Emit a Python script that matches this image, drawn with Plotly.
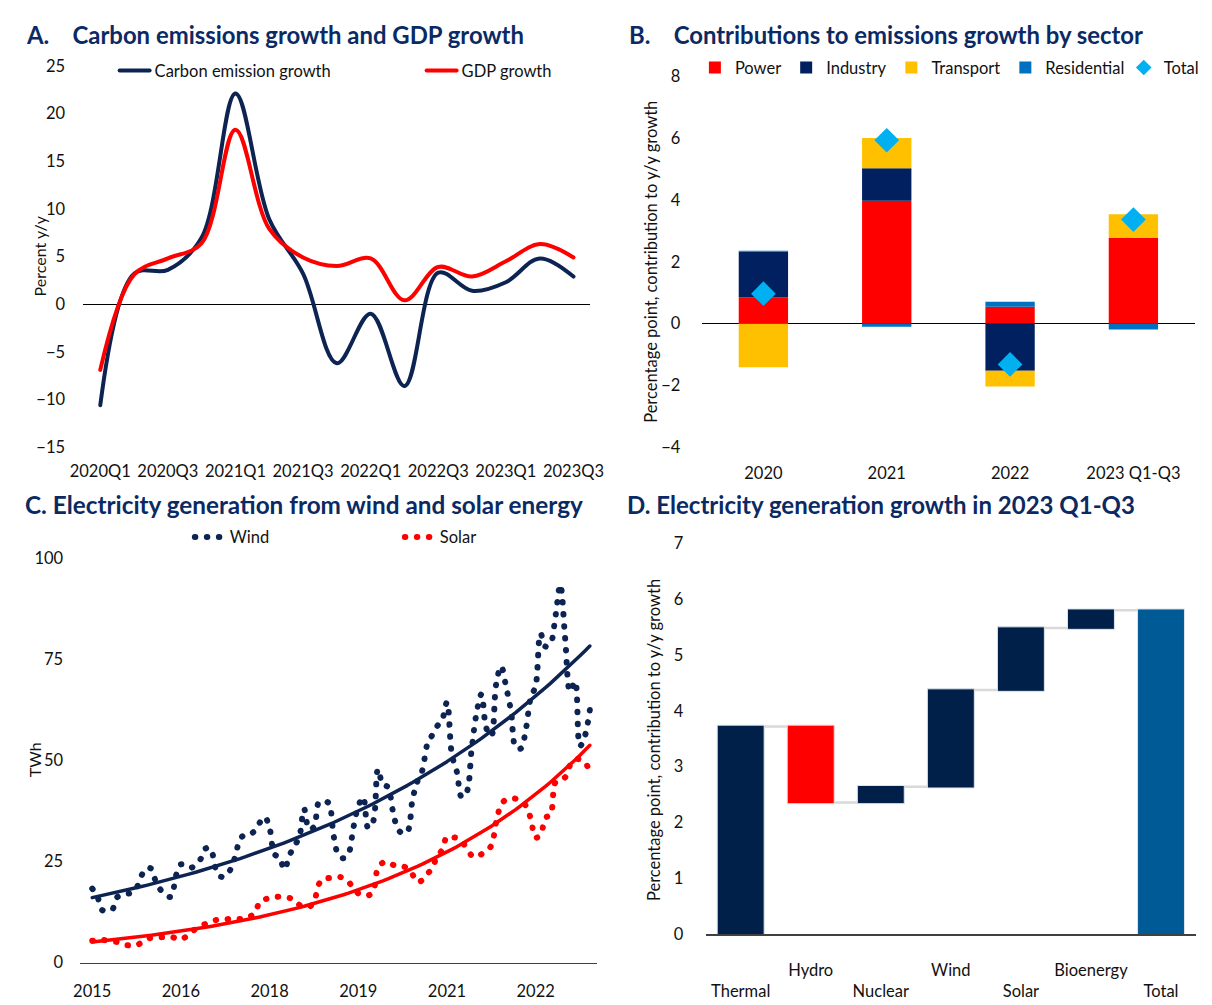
import numpy as np
import plotly.graph_objects as go

# ---------------- Data ----------------
# Panel A: y/y growth, percent
quarters = ["2020Q1", "2020Q2", "2020Q3", "2020Q4", "2021Q1", "2021Q2", "2021Q3", "2021Q4",
            "2022Q1", "2022Q2", "2022Q3", "2022Q4", "2023Q1", "2023Q2", "2023Q3"]
carbon_growth = [-10.6, 3.2, 3.6, 7.0, 22.1, 8.9, 3.2, -6.2, -1.0, -8.6, 3.3, 1.4, 2.3, 4.8, 2.9]
gdp_growth = [-6.9, 3.1, 4.8, 6.4, 18.3, 7.9, 4.9, 4.0, 4.8, 0.4, 3.9, 2.9, 4.5, 6.3, 4.9]

# Panel B: contributions, percentage points
years_b = ["2020", "2021", "2022", "2023 Q1-Q3"]
power = [0.85, 3.98, 0.55, 2.77]
industry = [1.48, 1.05, -1.53, 0.0]
transport = [-1.41, 0.98, -0.51, 0.77]
residential = [0.03, -0.10, 0.16, -0.19]
total_b = [0.97, 5.94, -1.32, 3.37]

# Panel C: monthly generation, TWh, from Jan 2015
wind = [18.3, 16.5, 13.0, 13.0, 13.0, 16.1, 16.7, 17.0, 17.3, 18.5,
        21.5, 23.3, 23.2, 19.6, 17.8, 16.6, 16.3, 21.5, 24.3, 23.7,
        23.4, 24.2, 25.6, 28.2, 28.2, 23.4, 21.3, 21.3, 22.9, 26.1,
        30.5, 31.6, 31.7, 32.6, 34.6, 36.0, 33.2, 26.8, 26.0, 23.0,
        26.4, 28.8, 30.9, 38.0, 33.0, 33.5, 39.6, 39.9, 39.4, 31.3,
        26.5, 25.8, 26.9, 33.3, 38.6, 40.9, 33.3, 34.8, 47.8, 43.9,
        43.4, 37.6, 33.1, 31.9, 32.4, 40.2, 44.8, 47.5, 53.9, 56.2,
        58.4, 59.9, 64.3, 51.4, 47.2, 40.9, 42.1, 52.6, 61.6, 66.3,
        57.9, 56.0, 68.9, 73.2, 68.2, 62.1, 53.1, 52.9, 57.5, 65.4,
        68.4, 81.3, 78.1, 78.8, 85.3, 93.4, 80.0, 67.0, 69.5, 53.5,
        56.0, 62.4]
solar = [5.4, 5.5, 5.6, 5.5, 5.3, 5.1, 4.6, 4.3, 4.3, 4.3,
         5.0, 5.8, 6.1, 6.1, 6.3, 6.3, 6.4, 6.0, 5.7, 6.4,
         7.5, 8.3, 9.0, 9.6, 10.1, 10.5, 10.7, 10.7, 10.8, 10.8,
         10.8, 10.9, 11.4, 12.2, 15.0, 15.6, 16.0, 16.2, 16.3, 16.2,
         16.0, 15.6, 14.3, 13.9, 13.8, 15.0, 19.4, 20.8, 20.9, 21.0,
         21.2, 20.9, 20.0, 18.4, 17.1, 16.7, 16.6, 17.5, 23.5, 24.7,
         24.9, 24.2, 23.8, 23.8, 23.3, 21.8, 19.9, 20.4, 21.9, 23.3,
         26.3, 27.8, 31.1, 31.0, 30.8, 29.9, 28.3, 26.5, 26.1, 26.8,
         27.7, 28.9, 34.8, 39.0, 40.3, 40.5, 40.5, 39.8, 38.8, 35.6,
         30.9, 31.6, 35.8, 36.5, 44.5, 45.2, 45.8, 48.8, 50.2, 50.2,
         49.5, 47.2]
month_tick_idx = [0, 18, 36, 54, 72, 90]
month_tick_labels = ["2015", "2016", "2018", "2019", "2021", "2022"]

# Panel D: contribution to y/y growth, percentage points
sources = ["Thermal", "Hydro", "Nuclear", "Wind", "Solar", "Bioenergy", "Total"]
contrib = [3.72, -1.36, 0.28, 1.73, 1.11, 0.32, 5.80]
measures = ["relative"] * 6 + ["total"]
upper_row = ["Hydro", "Wind", "Bioenergy"]

# ---------------- Styles ----------------
W, H = 1212, 1005
NAVY = "#0D2452"
RED = "#FF0000"
TITLE_C = "#0B2A63"
FONT = "Lato"
TXT = "#111111"
TICKF = dict(family=FONT, size=16.5, color=TXT)
LEGF = dict(family=FONT, size=16.5, color=TXT)

def px_x(a, b):
    return [a / W, b / W]

def px_y(top, bottom):
    return [1 - bottom / H, 1 - top / H]

fig = go.Figure()

# ---------- Panel A ----------
fig.add_trace(go.Scatter(x=quarters, y=carbon_growth, mode="lines", name="Carbon emission growth",
                         line=dict(color=NAVY, width=4, shape="spline", smoothing=1.0),
                         xaxis="x", yaxis="y", legend="legend"))
fig.add_trace(go.Scatter(x=quarters, y=gdp_growth, mode="lines", name="GDP growth",
                         line=dict(color=RED, width=4, shape="spline", smoothing=1.0),
                         xaxis="x", yaxis="y", legend="legend"))

# ---------- Panel B ----------
for name, vals, col in [("Power", power, "#FF0000"), ("Industry", industry, "#002060"),
                        ("Transport", transport, "#FFC000"), ("Residential", residential, "#0070C0")]:
    fig.add_trace(go.Bar(x=years_b, y=vals, name=name, marker=dict(color=col, line=dict(width=0)),
                         xaxis="x2", yaxis="y2", legend="legend2"))
fig.add_trace(go.Scatter(x=years_b, y=total_b, mode="markers", name="Total",
                         marker=dict(symbol="diamond", size=19, color="#00B0F0"),
                         xaxis="x2", yaxis="y2", legend="legend4"))

# ---------- Panel C ----------
months = list(range(len(wind)))
mx = np.array(months, dtype=float)
bw, aw = np.polyfit(mx, np.log(np.array(wind)), 1)
bs, as_ = np.polyfit(mx, np.log(np.array(solar)), 1)
wind_trend = np.exp(aw + bw * mx)
solar_trend = np.exp(as_ + bs * mx)

fig.add_trace(go.Scatter(x=months, y=wind, mode="lines", name="Wind",
                         line=dict(color=NAVY, width=6, shape="spline", dash="0.5px,11.5px"),
                         xaxis="x3", yaxis="y3", legend="legend3"))
fig.add_trace(go.Scatter(x=months, y=solar, mode="lines", name="Solar",
                         line=dict(color=RED, width=6, shape="spline", dash="0.5px,11.5px"),
                         xaxis="x3", yaxis="y3", legend="legend3"))
fig.add_trace(go.Scatter(x=months, y=wind_trend, mode="lines", showlegend=False,
                         line=dict(color=NAVY, width=3.5), xaxis="x3", yaxis="y3"))
fig.add_trace(go.Scatter(x=months, y=solar_trend, mode="lines", showlegend=False,
                         line=dict(color=RED, width=3.5), xaxis="x3", yaxis="y3"))

# ---------- Panel D ----------
fig.add_trace(go.Waterfall(x=sources, y=contrib, measure=measures, textinfo="none",
                           increasing=dict(marker=dict(color="#00204A", line=dict(color="#DDE3EA", width=1))),
                           decreasing=dict(marker=dict(color="#FF0000", line=dict(color="#F2D0D0", width=1))),
                           totals=dict(marker=dict(color="#005A96", line=dict(color="#DDE3EA", width=1))),
                           connector=dict(line=dict(color="#D9D9D9", width=2.5)),
                           showlegend=False, xaxis="x4", yaxis="y4"))

d_ticktext = [(s + "<br> ") if s in upper_row else (" <br>" + s) for s in sources]

def yax(domain, rng, dtick, ticklen, anchor, zero=False):
    return dict(domain=domain, range=rng, dtick=dtick, anchor=anchor, showgrid=False,
                zeroline=zero, zerolinecolor="#000000", zerolinewidth=1, showline=False,
                ticks="outside", ticklen=ticklen, tickcolor="rgba(0,0,0,0)", tickfont=TICKF,
                fixedrange=True)

fig.update_layout(
    width=W, height=H, margin=dict(l=0, r=0, t=0, b=0),
    paper_bgcolor="white", plot_bgcolor="white",
    font=dict(family=FONT, size=16, color=TXT),
    barmode="relative", bargap=0.6, waterfallgap=0.33,
    xaxis=dict(domain=px_x(71, 590), anchor="y", type="category", range=[-0.5, 14.5],
               tickvals=quarters[::2], showgrid=False, zeroline=False, showline=False,
               ticks="outside", ticklen=9, tickcolor="rgba(0,0,0,0)", tickfont=TICKF),
    yaxis=yax(px_y(57, 446), [-15, 25], 5, 14, "x", zero=True),
    xaxis2=dict(domain=px_x(704, 1209), anchor="y2", type="category", range=[-0.5, 3.5],
                showgrid=False, zeroline=False, showline=False,
                ticks="outside", ticklen=11, tickcolor="rgba(0,0,0,0)", tickfont=TICKF),
    yaxis2=yax(px_y(68, 446), [-4, 8], 2, 17, "x2", zero=True),
    xaxis3=dict(domain=px_x(68, 597), anchor="y3", range=[-2.4, 102.5],
                tickvals=month_tick_idx, ticktext=month_tick_labels,
                showgrid=False, zeroline=False, showline=True, linecolor="#404040", linewidth=1.5,
                ticks="outside", ticklen=13, tickcolor="rgba(0,0,0,0)", tickfont=TICKF),
    yaxis3=yax(px_y(559, 972), [0, 100], 25, 13, "x3"),
    xaxis4=dict(domain=px_x(708, 1210), anchor="y4", type="category", range=[-0.5, 6.5],
                tickvals=sources, ticktext=d_ticktext,
                showgrid=False, zeroline=False, showline=True, linecolor="#404040", linewidth=1.5,
                ticks="outside", ticklen=20, tickcolor="rgba(0,0,0,0)", tickfont=TICKF),
    yaxis4=yax(px_y(544, 943), [0, 7], 1, 18, "x4"),
    legend=dict(orientation="h", x=103 / W, y=1 - 62 / H, xanchor="left", yanchor="middle",
                font=LEGF, bgcolor="rgba(0,0,0,0)", entrywidth=262, tracegroupgap=0),
    legend2=dict(orientation="h", x=697 / W, y=1 - 59 / H, xanchor="left", yanchor="middle",
                 font=LEGF, bgcolor="rgba(0,0,0,0)"),
    legend4=dict(orientation="h", x=1136 / W, y=1 - 59 / H, xanchor="left", yanchor="middle",
                 font=LEGF, bgcolor="rgba(0,0,0,0)", itemsizing="constant"),
    legend3=dict(orientation="h", x=180 / W, y=1 - 538 / H, xanchor="left", yanchor="middle",
                 font=LEGF, bgcolor="rgba(0,0,0,0)", entrywidth=165),
    hovermode=False,
)

titles = [
    ("A.\u00a0\u00a0\u00a0\u00a0Carbon emissions growth and GDP growth", 10, 25, 23.9),
    ("B.\u00a0\u00a0\u00a0\u00a0Contributions to emissions growth by sector", 627, 25, 23.9),
    ("C. Electricity generation from wind and solar energy", 9, 505, 24.3),
    ("D. Electricity generation growth in 2023 Q1-Q3", 625, 505, 24.0),
]
for txt, x0, y0, fs in titles:
    fig.add_annotation(text=txt, x=x0 / W, y=1 - y0 / H, xref="paper", yref="paper",
                       xanchor="left", yanchor="middle", showarrow=False,
                       font=dict(family=FONT, size=fs, color=TITLE_C, weight="bold"))

ytitles = [("Percent y/y", 26, 251, 16), ("Percentage point, contribution to y/y growth", 652, 257, 16.5),
           ("TWh", 21, 765, 16), ("Percentage point, contribution to y/y growth", 655, 745, 16.5)]
for txt, x0, y0, fs in ytitles:
    fig.add_annotation(text=txt, x=x0 / W, y=1 - y0 / H, xref="paper", yref="paper",
                       xanchor="center", yanchor="middle", showarrow=False, textangle=-90,
                       font=dict(family=FONT, size=fs, color=TXT))

post = """
document.documentElement.style.margin = '0';
document.documentElement.style.padding = '0';
document.documentElement.style.overflow = 'hidden';
document.body.style.margin = '0';
document.body.style.padding = '0';
document.body.style.overflow = 'hidden';
var st = document.createElement('style');
st.innerHTML = 'path.js-line{stroke-linecap:round !important;stroke-linejoin:round !important;}';
document.head.appendChild(st);
"""
fig.write_html("out.html", config={"displayModeBar": False, "staticPlot": True}, post_script=post)
